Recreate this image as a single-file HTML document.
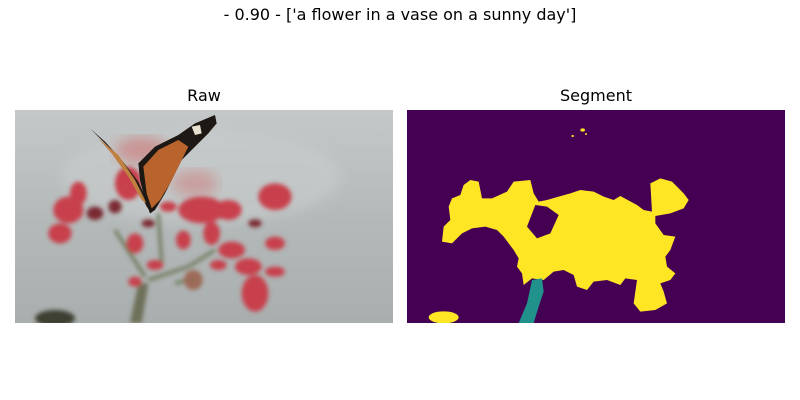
<!DOCTYPE html>
<html><head><meta charset="utf-8">
<style>
html,body{margin:0;padding:0;background:#fff;}
#fig{position:relative;width:800px;height:400px;overflow:hidden;font-family:"DejaVu Sans","Liberation Sans",sans-serif;color:#000;}
.t{position:absolute;white-space:nowrap;transform:translateX(-50%);}
svg{position:absolute;display:block;}
</style></head>
<body>
<div id="fig">
  <div class="t" style="left:400px;top:5px;font-size:16px;">- 0.90 - ['a flower in a vase on a sunny day']</div>
  <div class="t" style="left:204px;top:86px;font-size:16px;">Raw</div>
  <div class="t" style="left:596px;top:86px;font-size:16px;">Segment</div>

  <svg style="left:15px;top:110px" width="378" height="213" viewBox="0 0 1134 639" preserveAspectRatio="none">
    <defs>
      <linearGradient id="bg" x1="0" y1="0" x2="0" y2="1">
        <stop offset="0" stop-color="#c4c8c8"/>
        <stop offset="0.5" stop-color="#b4b9b9"/>
        <stop offset="1" stop-color="#a9aeae"/>
      </linearGradient>
      <filter id="bl"><feGaussianBlur stdDeviation="6"/></filter>
      <filter id="bl2"><feGaussianBlur stdDeviation="20"/></filter>
    </defs>
    <rect width="1134" height="639" fill="url(#bg)"/>
    <ellipse cx="560" cy="200" rx="420" ry="140" fill="#c9cdcd" opacity="0.6" filter="url(#bl2)"/>
    <ellipse cx="380" cy="120" rx="80" ry="40" fill="#d06060" opacity="0.5" filter="url(#bl2)"/>
    <ellipse cx="540" cy="220" rx="70" ry="40" fill="#d07070" opacity="0.45" filter="url(#bl2)"/>
    <g filter="url(#bl)">
      <path d="M400 520 L380 639 L345 639 L370 520 Z" fill="#6d6f58"/>
      <path d="M400 510 L520 470 L600 420 M300 360 L390 500 M430 310 L440 460 M480 520 L560 500" stroke="#6e7a5c" stroke-width="10" fill="none"/>
      <g fill="#c8404c">
        <ellipse cx="160" cy="300" rx="45" ry="40"/>
        <ellipse cx="135" cy="370" rx="35" ry="30"/>
        <ellipse cx="190" cy="250" rx="25" ry="35"/>
        <ellipse cx="340" cy="220" rx="40" ry="50"/>
        <ellipse cx="780" cy="260" rx="50" ry="40"/>
        <ellipse cx="560" cy="300" rx="70" ry="40"/>
        <ellipse cx="640" cy="300" rx="40" ry="30"/>
        <ellipse cx="360" cy="400" rx="25" ry="30"/>
        <ellipse cx="505" cy="390" rx="22" ry="28"/>
        <ellipse cx="590" cy="370" rx="25" ry="35"/>
        <ellipse cx="650" cy="420" rx="40" ry="25"/>
        <ellipse cx="780" cy="400" rx="30" ry="20"/>
        <ellipse cx="720" cy="550" rx="40" ry="55"/>
        <ellipse cx="420" cy="465" rx="25" ry="15"/>
        <ellipse cx="360" cy="515" rx="20" ry="15"/>
        <ellipse cx="610" cy="465" rx="25" ry="15"/>
        <ellipse cx="700" cy="470" rx="40" ry="25"/>
        <ellipse cx="780" cy="485" rx="30" ry="15"/>
        <ellipse cx="460" cy="290" rx="25" ry="15"/>
      </g>
      <g fill="#7a2a32">
        <ellipse cx="240" cy="310" rx="25" ry="20"/>
        <ellipse cx="300" cy="290" rx="20" ry="20"/>
        <ellipse cx="400" cy="340" rx="20" ry="12"/>
        <ellipse cx="720" cy="340" rx="20" ry="12"/>
      </g>
      <ellipse cx="535" cy="510" rx="28" ry="30" fill="#9c6a58"/>
      <ellipse cx="120" cy="625" rx="60" ry="25" fill="#3c4030"/>
    </g>
    <g>
      <path d="M225 55 L270 95 L320 150 L370 215 L405 290 L410 310 L395 290 L350 200 L300 130 Z" fill="#2a1c16"/>
      <path d="M250 85 L310 135 L360 210 L395 280 L380 270 L340 200 L290 130 Z" fill="#c08040"/>
      <path d="M370 160 L420 110 L490 75 L540 40 L600 15 L605 40 L580 70 L540 110 L500 150 L480 190 L450 250 L420 300 L405 310 L390 270 L375 210 Z" fill="#1e1814"/>
      <path d="M385 170 L430 120 L490 90 L520 110 L495 160 L465 220 L435 270 L410 295 L395 250 Z" fill="#b8642c"/>
      <path d="M530 50 L555 45 L560 70 L540 75 Z" fill="#e8e0d0"/>
    </g>
  </svg>

  <svg style="left:407px;top:110px" width="378" height="213" viewBox="0 0 1134 639" preserveAspectRatio="none">
    <rect width="1134" height="639" fill="#440154"/>
    <path fill="#fde725" fill-rule="evenodd" d="M105 395 L110 350 L130 330 L125 290 L135 265 L160 255 L170 225 L190 210 L215 215 L225 265 L255 265 L300 245 L320 215 L370 210 L380 250 L395 275 L420 270 L455 260 L490 250 L520 240 L560 245 L590 260 L620 270 L640 258 L690 285 L710 300 L735 305 L730 220 L760 205 L795 215 L830 250 L845 270 L830 295 L790 310 L745 318 L745 340 L770 375 L805 380 L790 420 L775 440 L780 470 L805 490 L790 510 L760 520 L770 545 L780 580 L745 600 L700 605 L680 580 L690 510 L655 505 L640 525 L600 510 L560 515 L540 540 L510 530 L500 495 L470 480 L440 485 L410 510 L375 505 L350 525 L345 490 L330 470 L335 445 L320 420 L290 380 L270 360 L235 350 L195 355 L165 370 L135 400 Z M360 350 L385 285 L420 290 L455 315 L430 370 L390 385 Z"/>
    <path fill="#21918c" d="M375 510 L405 505 L410 545 L395 590 L380 639 L335 639 L360 580 Z"/>
    <ellipse cx="110" cy="622" rx="45" ry="18" fill="#fde725"/>
    <ellipse cx="527" cy="60" rx="7" ry="5" fill="#fde725"/>
    <ellipse cx="497" cy="78" rx="4" ry="3" fill="#fde725"/>
    <ellipse cx="537" cy="72" rx="3" ry="3" fill="#fde725"/>
  </svg>
</div>
</body></html>
